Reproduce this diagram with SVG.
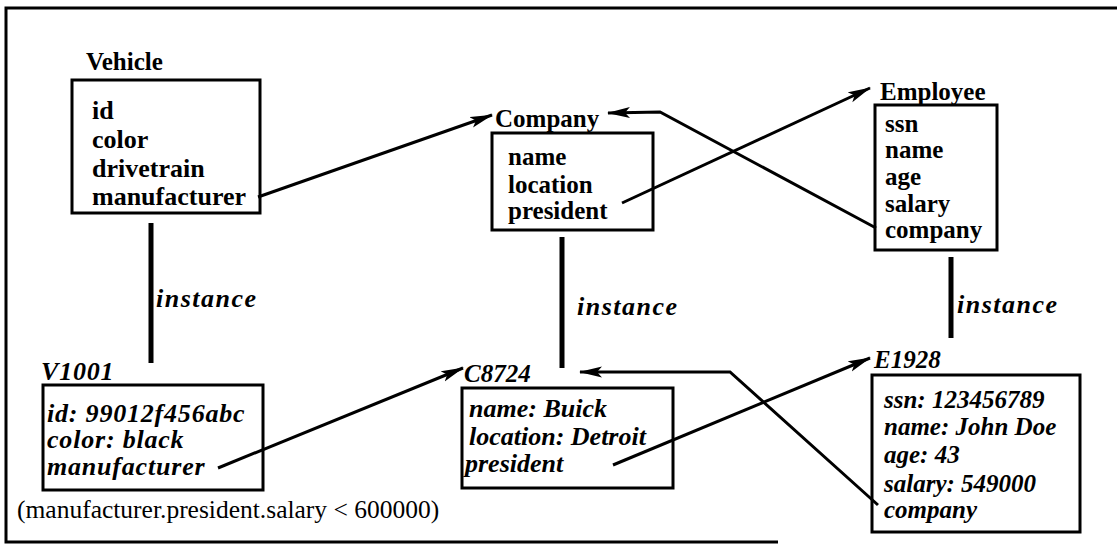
<svg xmlns="http://www.w3.org/2000/svg" width="1117" height="546" viewBox="0 0 1117 546">
  <style>
    text { font-family: "Liberation Serif", "Times New Roman", serif; fill: #000; font-weight: bold; }
    .cls { font-size: 25px; }
    .attr { font-size: 25px; }
    .obj { font-size: 25px; font-style: italic; }
    .big { font-size: 26px; font-style: italic; letter-spacing: 0.8px; }
    .note { font-size: 25.5px; font-weight: normal; }
    .box { fill: #fff; stroke: #000; stroke-width: 3; }
    .frame { fill: none; stroke: #000; stroke-width: 3; }
    .ref { fill: none; stroke: #000; stroke-width: 3; marker-end: url(#head); }
    .inst { stroke: #000; stroke-width: 5; }
  </style>
  <defs>
    <marker id="head" markerUnits="userSpaceOnUse" markerWidth="26" markerHeight="14" refX="22" refY="6" orient="auto">
      <path d="M0,0.5 L23,6 L0,11.5 L5,6 Z" fill="#000"/>
    </marker>
  </defs>

  <rect width="1117" height="546" fill="#fff"/>

  <!-- page frame -->
  <path class="frame" d="M1117,8 L6,8 L6,542 L778,542"/>

  <!-- class: Vehicle -->
  <g id="vehicle">
    <text class="cls" x="86" y="70">Vehicle</text>
    <rect class="box" x="72" y="80" width="188" height="133"/>
    <text class="attr" x="92" y="119" style="font-size:26px">id</text>
    <text class="attr" x="92" y="148" style="font-size:26px">color</text>
    <text class="attr" x="92" y="177" style="font-size:26px">drivetrain</text>
    <text class="attr" x="92" y="205" style="font-size:26px">manufacturer</text>
  </g>

  <!-- class: Company -->
  <g id="company">
    <text class="cls" x="495" y="127">Company</text>
    <rect class="box" x="492" y="133" width="161" height="97"/>
    <text class="attr" x="508" y="165">name</text>
    <text class="attr" x="508" y="193">location</text>
    <text class="attr" x="508" y="219">president</text>
  </g>

  <!-- class: Employee -->
  <g id="employee">
    <text class="cls" x="880" y="100">Employee</text>
    <rect class="box" x="875" y="105" width="122" height="145"/>
    <text class="attr" x="885" y="132">ssn</text>
    <text class="attr" x="885" y="158">name</text>
    <text class="attr" x="885" y="185">age</text>
    <text class="attr" x="885" y="212">salary</text>
    <text class="attr" x="885" y="238">company</text>
  </g>

  <!-- object: V1001 -->
  <g id="v1001">
    <text class="big" x="41" y="380">V1001</text>
    <rect class="box" x="43" y="385" width="220" height="105"/>
    <text class="big" x="47" y="422">id: 99012f456abc</text>
    <text class="big" x="47" y="448">color: black</text>
    <text class="big" x="47" y="475">manufacturer</text>
  </g>

  <!-- object: C8724 -->
  <g id="c8724">
    <text class="obj" x="464" y="382">C8724</text>
    <rect class="box" x="462" y="388" width="211" height="100"/>
    <text class="obj" x="469" y="417" style="font-size:26px">name: Buick</text>
    <text class="obj" x="469" y="445" style="font-size:26px">location: Detroit</text>
    <text class="obj" x="465" y="472" style="font-size:26px">president</text>
  </g>

  <!-- object: E1928 -->
  <g id="e1928">
    <text class="obj" x="874" y="368">E1928</text>
    <rect class="box" x="872" y="375" width="208" height="157"/>
    <text class="obj" x="884" y="408">ssn: 123456789</text>
    <text class="obj" x="884" y="435">name: John Doe</text>
    <text class="obj" x="884" y="463">age: 43</text>
    <text class="obj" x="884" y="492">salary: 549000</text>
    <text class="obj" x="884" y="518">company</text>
  </g>

  <!-- path constraint -->
  <text class="note" x="17" y="518">(manufacturer.president.salary &lt; 600000)</text>

  <!-- connectors -->
  <g id="connectors">
    <line class="inst" x1="151" y1="223" x2="151" y2="363"/>
    <line class="inst" x1="562" y1="237" x2="562" y2="368"/>
    <line class="inst" x1="951" y1="257" x2="951" y2="338"/>
    <text class="big" x="156" y="307" style="letter-spacing:1.5px">instance</text>
    <text class="big" x="577" y="315" style="letter-spacing:1.5px">instance</text>
    <text class="big" x="957" y="313" style="letter-spacing:1.5px">instance</text>

    <polyline class="ref" points="258,197 492,115"/>
    <polyline class="ref" points="622,203 870,88"/>
    <polyline class="ref" points="876,228 660,112 608,113"/>
    <polyline class="ref" points="218,468 463,368"/>
    <polyline class="ref" points="613,465 870,358"/>
    <polyline class="ref" points="878,505 730,372 580,372"/>
  </g>
</svg>
